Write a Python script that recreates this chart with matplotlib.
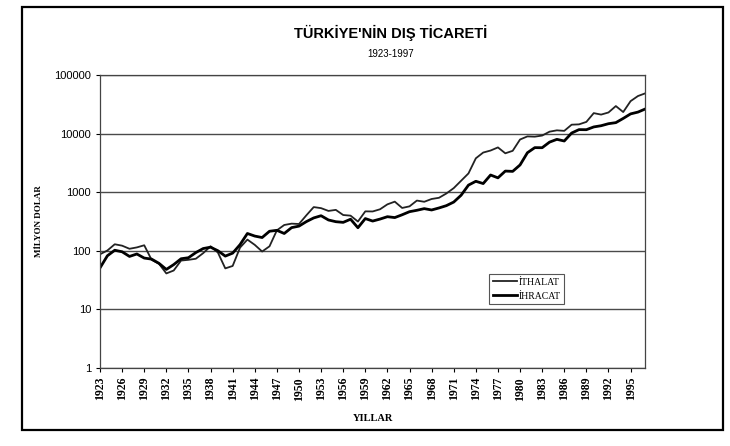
"""Türkiye'nin dış ticareti 1923-1997, log scale line chart."""
import numpy as np
import matplotlib.pyplot as plt
import matplotlib as mpl
from matplotlib.patches import Rectangle

mpl.rcParams.update({
    "font.family": ["Liberation Sans", "DejaVu Sans"],
    "font.size": 7,
})

years = np.arange(1923, 1998)

# million USD
ithalat = [87, 101, 129, 122, 108, 114, 124, 70, 60, 41,
           46, 68, 70, 73, 91, 119, 93, 50, 55, 113,
           155, 126, 97, 119, 223, 275, 290, 286, 402, 556,
           533, 478, 498, 407, 397, 315, 470, 468, 510, 619,
           688, 537, 572, 718, 685, 764, 801, 948, 1171, 1563,
           2086, 3778, 4739, 5129, 5796, 4599, 5069, 7909, 8933, 8843,
           9235, 10757, 11343, 11105, 14158, 14335, 15792, 22302, 21047, 22871,
           29428, 23270, 35709, 43627, 48559]
ihracat = [51, 82, 102, 96, 80, 88, 75, 72, 61, 48,
           58, 73, 76, 93, 109, 115, 100, 81, 91, 127,
           197, 178, 168, 215, 223, 197, 248, 263, 314, 363,
           396, 335, 313, 305, 345, 247, 354, 321, 347, 381,
           368, 411, 464, 490, 523, 496, 537, 588, 677, 885,
           1317, 1532, 1401, 1960, 1753, 2288, 2261, 2910, 4703, 5746,
           5728, 7134, 7958, 7457, 10190, 11662, 11625, 12959, 13593, 14715,
           15345, 18106, 21637, 23224, 26261]

tick_years = list(range(1923, 1998, 3))
y_ticks = [1, 10, 100, 1000, 10000, 100000]

fig = plt.figure(figsize=(7.3, 4.46), dpi=100)
# outer frame of the chart area
fig.patches.append(Rectangle((0.03, 0.035), 0.96, 0.95, transform=fig.transFigure,
                             fill=False, edgecolor="black", linewidth=1.6))

ax = fig.add_axes([0.137, 0.175, 0.747, 0.657])
ax.plot(years, ithalat, color="#222222", linewidth=1.3, label="İTHALAT")
ax.plot(years, ihracat, color="black", linewidth=2.0, label="İHRACAT")

ax.set_yscale("log")
ax.set_ylim(1, 100000)
ax.set_xlim(1923, 1997)
ax.set_yticks(y_ticks)
ax.set_yticklabels([str(v) for v in y_ticks], fontsize=8)
ax.yaxis.set_minor_locator(mpl.ticker.NullLocator())
ax.set_xticks(tick_years)
ax.set_xticklabels([str(y) for y in tick_years], rotation=90, fontsize=8.5,
                   family="Liberation Serif", fontweight="bold")
ax.tick_params(axis="both", length=3, width=0.8, direction="out")
ax.grid(axis="y", color="#4a4a4a", linewidth=1.0)
for s in ax.spines.values():
    s.set_linewidth(0.9)
    s.set_color("#444444")

ax.set_ylabel("MİLYON DOLAR", family="Liberation Serif", fontweight="bold",
              fontsize=6.5)
ax.yaxis.set_label_coords(-0.105, 0.5)
ax.set_xlabel("YILLAR", family="Liberation Serif", fontweight="bold",
              fontsize=7.5, labelpad=10)

fig.text(0.535, 0.915, "TÜRKİYE'NİN DIŞ TİCARETİ", ha="center", fontsize=10.5,
         fontweight="bold")
fig.text(0.535, 0.873, "1923-1997", ha="center", fontsize=7)

leg = ax.legend(loc="lower left", bbox_to_anchor=(0.705, 0.2), fancybox=False,
                framealpha=1, edgecolor="#555555", handlelength=2.4,
                handletextpad=0.2, borderpad=0.4, labelspacing=0.5,
                prop={"family": "Liberation Serif", "size": 7})
leg.get_frame().set_linewidth(0.8)

plt.savefig("out.png", dpi=100)
plt.close()
